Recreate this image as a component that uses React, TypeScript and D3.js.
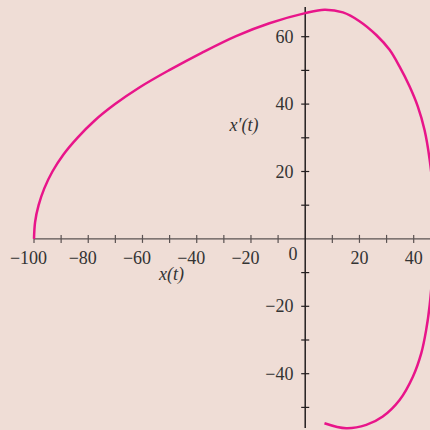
import React from 'react';
import * as d3 from 'd3';

// phase trajectory: x(t) and x'(t)
const posX = [-100, -99.6, -98.3, -96.2, -93.2, -89.2, -84, -77.8, -70.1, -61, -50.3, -38, -25.5, -13.2, 0, 7.1, 13.9, 20, 26.2, 31.1, 34.8, 38.5, 41.5, 44, 45.9, 47.2, 47.5, 47, 45.9, 44.6, 42.8, 39.7, 34.8, 28.6, 22.5, 15.1, 7.1];
const velY = [0, 5, 10, 15, 20, 25, 30, 35, 40, 45, 50, 55.3, 60.2, 64, 67, 68, 67.2, 64.6, 60.5, 56.1, 51.1, 45.2, 39.3, 32.3, 23.4, 13, 2, -9, -19.6, -27, -33.9, -40.9, -47.8, -52.7, -55.2, -56.2, -54.7];

const xTicks = [-100, -90, -80, -70, -60, -50, -40, -30, -20, -10, 10, 20, 30, 40];
const xLabels = [-100, -80, -60, -40, -20, 20, 40];
const yTicks = [-50, -40, -30, -20, -10, 10, 20, 30, 40, 50, 60];
const yLabels = [-40, -20, 20, 40, 60];

const W = 430;
const H = 430;
const fmt = (v: number) => (v < 0 ? '\u2212' + Math.abs(v) : String(v));

export default function App() {
  const x = d3.scaleLinear().domain([-100, 40]).range([34, 413.7]);
  const y = d3.scaleLinear().domain([60, -40]).range([36.7, 373.7]);

  const pts: [number, number][] = posX.map((v, i) => [v, velY[i]]);
  const line = d3.line<[number, number]>()
    .x(d => x(d[0]))
    .y(d => y(d[1]))
    .curve(d3.curveCatmullRom.alpha(0.5));

  const x0 = x(0);
  const y0 = y(0);
  const font = '"Liberation Serif", "Times New Roman", serif';

  return (
    <svg width={W} height={H} style={{ position: 'absolute', left: 0, top: 0 }} fontFamily={font}>
      <rect width={W} height={H} fill="#efddd6" />

      {/* x axis */}
      <line x1={x(-100)} x2={W} y1={y0} y2={y0} stroke="#5a5252" strokeWidth={1.4} />
      {xTicks.map(t => (
        <line key={t} x1={x(t)} x2={x(t)} y1={y0 - 4} y2={y0 + 4} stroke="#5a5252" strokeWidth={1.2} />
      ))}
      {xLabels.map(t => (
        <text key={t} x={x(t) - (t < 0 ? 5.5 : 0)} y={263.5} textAnchor="middle" fontSize={18} fill="#333">
          {fmt(t)}
        </text>
      ))}
      <text x={293} y={259.5} textAnchor="middle" fontSize={18} fill="#333">0</text>
      <text x={171.5} y={280} textAnchor="middle" fontSize={18} fontStyle="italic" fill="#333">x(t)</text>

      {/* y axis */}
      <line x1={x0} x2={x0} y1={7} y2={428} stroke="#231f20" strokeWidth={1.5} />
      {yTicks.map(t => (
        <line key={t} x1={x0 - 4} x2={x0 + 4} y1={y(t)} y2={y(t)} stroke="#231f20" strokeWidth={1.2} />
      ))}
      {yLabels.map(t => (
        <text key={t} x={293.5} y={y(t) + 6} textAnchor="end" fontSize={18} fill="#333">
          {fmt(t)}
        </text>
      ))}
      <text x={244} y={131} textAnchor="middle" fontSize={18} fontStyle="italic" fill="#333">x{'\u2032'}(t)</text>

      <path d={line(pts) || ''} fill="none" stroke="#e8158a" strokeWidth={2.5} />
    </svg>
  );
}
